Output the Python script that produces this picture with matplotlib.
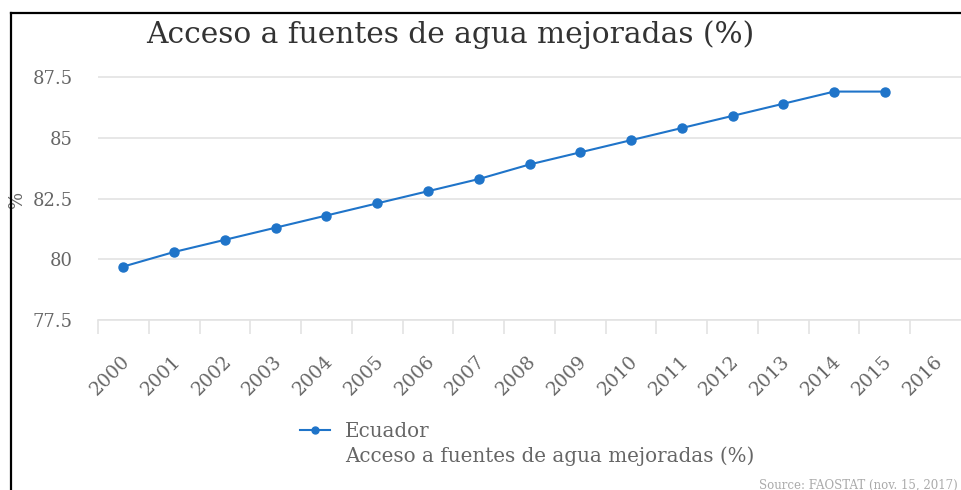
import matplotlib
matplotlib.use("Agg")
import matplotlib.pyplot as plt
from matplotlib.lines import Line2D

years = [str(y) for y in range(2000, 2017)]
values = [79.7, 80.3, 80.8, 81.3, 81.8, 82.3, 82.8, 83.3, 83.9, 84.4,
          84.9, 85.4, 85.9, 86.4, 86.9, 86.9]
yticks = [77.5, 80, 82.5, 85, 87.5]
ytick_labels = ["77.5", "80", "82.5", "85", "87.5"]
title = "Acceso a fuentes de agua mejoradas (%)"
series_name = "Ecuador"
source = "Source: FAOSTAT (nov. 15, 2017)"

BLUE = "#1f74c9"
GRID = "#e3e3e3"
TXT = "#666666"

plt.rcParams["font.family"] = ["DejaVu Serif"]

W, H = 961, 490
fig = plt.figure(figsize=(W / 100, H / 100), dpi=100)
ax = fig.add_axes([98 / W, (H - 320) / H, (W - 98) / W, (320 - 52.7) / H])

# categorical axis: points sit in the middle of each year band
xs = [i + 0.5 for i in range(len(values))]
ax.plot(xs, values, color=BLUE, lw=1.5, marker="o", ms=6.5, label=series_name)

ax.set_xlim(0, len(years))
ax.set_ylim(77.5, 88.5)
ax.set_yticks(yticks)
ax.set_yticklabels(ytick_labels, fontsize=13, color=TXT)
ax.set_xticks(range(len(years)))
ax.set_xticklabels([])
for i, yr in enumerate(years):
    ax.text(i + 0.45, -0.12, yr, transform=ax.get_xaxis_transform(),
            rotation=45, ha="right", va="top", fontsize=13.5, color=TXT,
            rotation_mode="anchor")
ax.tick_params(axis="y", length=0, pad=18)
ax.tick_params(axis="x", length=10, color=GRID, width=1.2)
ax.grid(axis="y", color=GRID, lw=1.2)
ax.set_axisbelow(True)
for s in ["top", "right", "left"]:
    ax.spines[s].set_visible(False)
ax.spines["bottom"].set_color(GRID)
ax.spines["bottom"].set_linewidth(1.2)

ax.set_ylabel("%", fontsize=13, color=TXT)
ax.yaxis.set_label_coords(-72 / (W - 98), 0.45)

fig.text(450 / W, 1 - 35 / H, title, ha="center", va="center",
         fontsize=21.3, color="#333333")

leg = fig.legend(handles=[Line2D([], [], color=BLUE, lw=1.5, marker="o", ms=5)],
                 labels=[series_name], loc="center left",
                 bbox_to_anchor=(300 / W, 1 - 431 / H), frameon=False,
                 fontsize=14.3, handlelength=1.5, handletextpad=0.75,
                 borderpad=0, borderaxespad=0)
for t in leg.get_texts():
    t.set_color(TXT)
fig.text(345 / W, 1 - 456 / H, title, ha="left", va="center",
         fontsize=14.3, color=TXT)
fig.text(958 / W, 1 - 485 / H, source, ha="right", va="center",
         fontsize=8.5, color="#aaaaaa")

# screenshot frame on top and left
fig.add_artist(Line2D([11 / W, 11 / W], [0, 1 - 13 / H], color="black", lw=1.6,
                      transform=fig.transFigure))
fig.add_artist(Line2D([11 / W, 1], [1 - 13 / H, 1 - 13 / H], color="black", lw=1.6,
                      transform=fig.transFigure))

fig.savefig("out.png", dpi=100)
